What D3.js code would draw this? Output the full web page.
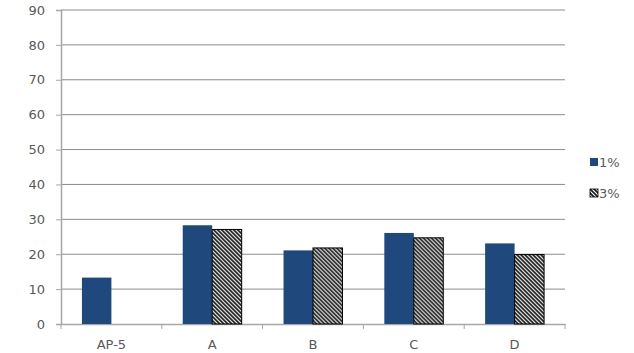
<!DOCTYPE html>
<html>
<head>
<meta charset="utf-8">
<script src="https://cdn.jsdelivr.net/npm/d3@7"></script>
<style>
  body { margin: 0; background: #fff; }
  text { font-family: "DejaVu Sans", sans-serif; fill: #595959; }
</style>
</head>
<body>
<div id="chart"></div>
<script>
// chart data
var categories = ['AP-5', 'A', 'B', 'C', 'D'];
var seriesNames = ['1%', '3%'];
var values1 = [13.3, 28.3, 21.1, 26.1, 23.1];
var values3 = [null, 27.1, 21.8, 24.7, 19.9];
var yTicks = [0, 10, 20, 30, 40, 50, 60, 70, 80, 90];

var svgWidth = 634;
var svgHeight = 353;
var margin = { top: 10, right: 69, bottom: 29, left: 61 };
var chartWidth = svgWidth - margin.left - margin.right;
var chartHeight = svgHeight - margin.top - margin.bottom;

var svg = d3.select('#chart').append('svg')
    .attr('width', svgWidth)
    .attr('height', svgHeight);

// hatch for the 3% series
var defs = svg.append('defs');
defs.append('pattern')
    .attr('id', 'hatch')
    .attr('patternUnits', 'userSpaceOnUse')
    .attr('width', 4)
    .attr('height', 4)
    .call(p => {
        p.append('rect').attr('width', 4).attr('height', 4).attr('fill', '#fff');
        p.append('path')
            .attr('d', 'M-1,-1 L5,5 M-1,3 L1,5 M3,-1 L5,1')
            .attr('stroke', '#1a1a1a')
            .attr('stroke-width', 1.7);
    });

var g = svg.append('g')
    .attr('transform', `translate(${margin.left}, ${margin.top})`);

var xScale = d3.scaleBand()
    .domain(categories)
    .range([0, chartWidth])
    .paddingInner(0)
    .paddingOuter(0);

var xInner = d3.scaleBand()
    .domain(seriesNames)
    .range([0, xScale.bandwidth()])
    .paddingOuter(0.71)
    .paddingInner(0);

var yScale = d3.scaleLinear()
    .domain([0, 90])
    .range([chartHeight, 0]);

// gridlines
g.append('g')
    .selectAll('line')
    .data(yTicks.filter(d => d > 0))
    .enter()
    .append('line')
    .attr('x1', 0)
    .attr('x2', chartWidth)
    .attr('y1', d => yScale(d))
    .attr('y2', d => yScale(d))
    .attr('stroke', '#8c8c8c')
    .attr('stroke-width', 1);

// y axis
var yAxisG = g.append('g')
    .call(d3.axisLeft(yScale).tickValues(yTicks).tickSize(5).tickPadding(11));
yAxisG.select('.domain').attr('stroke', '#a6a6a6').attr('stroke-width', 1.5);
yAxisG.selectAll('.tick line').attr('stroke', '#a6a6a6');
yAxisG.selectAll('text').style('font-size', '13px').attr('fill', '#595959');

// x axis
var xAxisG = g.append('g')
    .attr('transform', `translate(0, ${chartHeight})`)
    .call(d3.axisBottom(xScale).tickSize(0).tickPadding(16));
xAxisG.select('.domain').attr('stroke', '#a6a6a6').attr('stroke-width', 1.5);
xAxisG.selectAll('text').style('font-size', '13px').attr('fill', '#595959');

// category separators
g.append('g')
    .selectAll('line')
    .data(d3.range(categories.length + 1))
    .enter()
    .append('line')
    .attr('x1', i => i * xScale.step())
    .attr('x2', i => i * xScale.step())
    .attr('y1', chartHeight)
    .attr('y2', chartHeight + 5)
    .attr('stroke', '#a6a6a6');

// bars
var rows = categories.map((c, i) => ({ cat: c, v1: values1[i], v3: values3[i] }));

var groups = g.selectAll('.cat')
    .data(rows)
    .enter()
    .append('g')
    .attr('transform', d => `translate(${xScale(d.cat)}, 0)`);

groups.filter(d => d.v1 != null)
    .append('rect')
    .attr('x', xInner('1%'))
    .attr('width', xInner.bandwidth())
    .attr('y', d => yScale(d.v1))
    .attr('height', d => chartHeight - yScale(d.v1))
    .attr('fill', '#1f497d');

groups.filter(d => d.v3 != null)
    .append('rect')
    .attr('x', xInner('3%'))
    .attr('width', xInner.bandwidth())
    .attr('y', d => yScale(d.v3))
    .attr('height', d => chartHeight - yScale(d.v3))
    .attr('fill', 'url(#hatch)')
    .attr('stroke', '#000')
    .attr('stroke-width', 1);

// legend
var legend = svg.append('g')
    .attr('transform', 'translate(590, 158)');

var legendItems = legend.selectAll('g')
    .data(seriesNames)
    .enter()
    .append('g')
    .attr('transform', (d, i) => `translate(0, ${i * 31})`);

legendItems.append('rect')
    .attr('width', 8)
    .attr('height', 8)
    .attr('fill', d => d == '1%' ? '#1f497d' : 'url(#hatch)')
    .attr('stroke', d => d == '1%' ? 'none' : '#000')
    .attr('stroke-width', 0.8);

legendItems.append('text')
    .attr('x', 9)
    .attr('y', 4.5)
    .attr('dominant-baseline', 'central')
    .style('font-size', '13px')
    .text(d => d);
</script>
</body>
</html>
